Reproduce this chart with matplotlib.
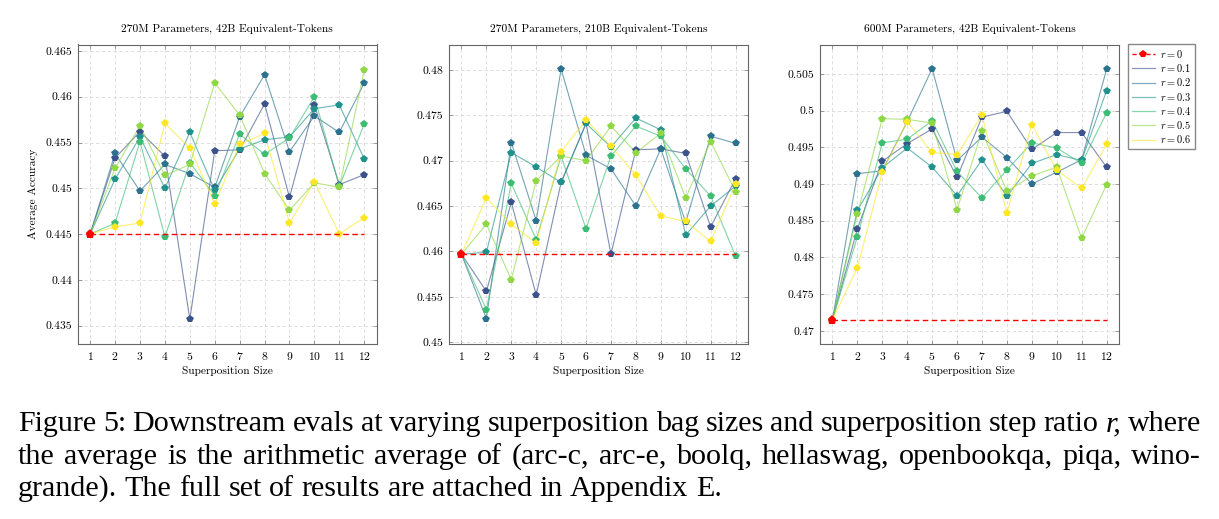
import matplotlib
matplotlib.use("Agg")
import matplotlib.pyplot as plt
from matplotlib.lines import Line2D
from matplotlib.ticker import FuncFormatter, MultipleLocator

plt.rcParams['mathtext.fontset'] = 'cm'
plt.rcParams['axes.formatter.use_mathtext'] = True

sizes = list(range(1, 13))
ratios = ['0.1', '0.2', '0.3', '0.4', '0.5', '0.6']
colors = ['#3b528b', '#2c728e', '#21918c', '#3dbc74', '#8fd744', '#fde725']

titles = ['270M Parameters, 42B Equivalent-Tokens',
          '270M Parameters, 210B Equivalent-Tokens',
          '600M Parameters, 42B Equivalent-Tokens']

# r = 0 baseline per panel
baseline = [0.4450, 0.4597, 0.4715]

# panel 1: 270M, 42B
p1_r01 = [0.4450, 0.4533, 0.4562, 0.4535, 0.4357, 0.4541, 0.4542, 0.4592, 0.4490, 0.4591, 0.4504, 0.4515]
p1_r02 = [0.4450, 0.4538, 0.4497, 0.4526, 0.4516, 0.4501, 0.4578, 0.4624, 0.4540, 0.4579, 0.4561, 0.4615]
p1_r03 = [0.4450, 0.4510, 0.4556, 0.4500, 0.4561, 0.4498, 0.4543, 0.4553, 0.4556, 0.4587, 0.4591, 0.4532]
p1_r04 = [0.4450, 0.4462, 0.4551, 0.4447, 0.4528, 0.4492, 0.4559, 0.4537, 0.4555, 0.4600, 0.4502, 0.4570]
p1_r05 = [0.4450, 0.4522, 0.4568, 0.4514, 0.4526, 0.4615, 0.4580, 0.4516, 0.4476, 0.4506, 0.4501, 0.4629]
p1_r06 = [0.4450, 0.4458, 0.4462, 0.4571, 0.4544, 0.4483, 0.4548, 0.4560, 0.4462, 0.4507, 0.4450, 0.4468]

# panel 2: 270M, 210B
p2_r01 = [0.4597, 0.4556, 0.4654, 0.4552, 0.4676, 0.4741, 0.4597, 0.4712, 0.4713, 0.4708, 0.4627, 0.4680]
p2_r02 = [0.4597, 0.4526, 0.4720, 0.4634, 0.4801, 0.4706, 0.4691, 0.4650, 0.4713, 0.4632, 0.4727, 0.4719]
p2_r03 = [0.4597, 0.4599, 0.4709, 0.4693, 0.4676, 0.4741, 0.4715, 0.4747, 0.4734, 0.4618, 0.4650, 0.4672]
p2_r04 = [0.4597, 0.4536, 0.4675, 0.4613, 0.4705, 0.4625, 0.4705, 0.4738, 0.4727, 0.4691, 0.4661, 0.4595]
p2_r05 = [0.4597, 0.4630, 0.4569, 0.4678, 0.4705, 0.4700, 0.4738, 0.4709, 0.4730, 0.4659, 0.4721, 0.4666]
p2_r06 = [0.4597, 0.4659, 0.4630, 0.4609, 0.4710, 0.4745, 0.4716, 0.4684, 0.4639, 0.4633, 0.4611, 0.4674]

# panel 3: 600M, 42B
p3_r01 = [0.4715, 0.4839, 0.4931, 0.4955, 0.4975, 0.4909, 0.4991, 0.4999, 0.4947, 0.4970, 0.4970, 0.4923]
p3_r02 = [0.4715, 0.4914, 0.4918, 0.4985, 0.5057, 0.4932, 0.4964, 0.4936, 0.4900, 0.4916, 0.4933, 0.5056]
p3_r03 = [0.4715, 0.4864, 0.4922, 0.4949, 0.4923, 0.4884, 0.4933, 0.4883, 0.4928, 0.4940, 0.4932, 0.5027]
p3_r04 = [0.4715, 0.4828, 0.4956, 0.4961, 0.4986, 0.4917, 0.4881, 0.4919, 0.4956, 0.4949, 0.4928, 0.4997]
p3_r05 = [0.4715, 0.4859, 0.4989, 0.4988, 0.4983, 0.4865, 0.4972, 0.4890, 0.4911, 0.4923, 0.4826, 0.4899]
p3_r06 = [0.4715, 0.4786, 0.4916, 0.4985, 0.4943, 0.4940, 0.4994, 0.4860, 0.4981, 0.4919, 0.4894, 0.4954]

panels = [
    [p1_r01, p1_r02, p1_r03, p1_r04, p1_r05, p1_r06],
    [p2_r01, p2_r02, p2_r03, p2_r04, p2_r05, p2_r06],
    [p3_r01, p3_r02, p3_r03, p3_r04, p3_r05, p3_r06],
]
ylims = [(0.4330, 0.4657), (0.4498, 0.4828), (0.4682, 0.5090)]

caption = [
    "Figure 5: Downstream evals at varying superposition bag sizes and superposition step ratio r, where",
    "the average is the arithmetic average of (arc-c, arc-e, boolq, hellaswag, openbookqa, piqa, wino-",
    "grande). The full set of results are attached in Appendix E.",
]

W, H = 1219, 519
fig = plt.figure(figsize=(W / 100, H / 100), dpi=100)

lefts = [77.7, 449.0, 820.0]
ax_w, ax_top, ax_bot = 299.0, 44.5, 344.0

tick_font = dict(family='cmr10', size=8.2)
fmt = FuncFormatter(lambda v, p: '{:g}'.format(round(v, 4)))

for i, series in enumerate(panels):
    ax = fig.add_axes([lefts[i] / W, 1 - ax_bot / H, ax_w / W, (ax_bot - ax_top) / H])
    base = [baseline[i]] * len(sizes)
    ax.plot(sizes, base, color='red', ls=(0, (4, 2.5)), lw=1.0, zorder=5)
    for vals, c in zip(series, colors):
        ax.plot(sizes, vals, color=c, lw=0.8, alpha=0.65, zorder=3)
        ax.plot(sizes, vals, ls='none', marker='p', ms=6, color=c, mew=0, zorder=4)
    ax.plot(sizes[:1], base[:1], ls='none', marker='p', ms=6.5, color='red', mew=0, zorder=6)

    ax.set_xlim(0.5, 12.5)
    ax.set_ylim(*ylims[i])
    ax.set_xticks(sizes)
    ax.yaxis.set_major_locator(MultipleLocator(0.005))
    ax.yaxis.set_major_formatter(fmt)
    ax.grid(True, color='#d9d9d9', ls=(0, (4, 3)), lw=0.6)
    ax.set_axisbelow(True)
    ax.tick_params(direction='in', length=3, width=0.5, color='#777777',
                   top=True, right=True, pad=4)
    for lab in ax.get_xticklabels() + ax.get_yticklabels():
        lab.set_fontfamily('cmr10')
        lab.set_fontsize(8.4)
    for sp in ax.spines.values():
        sp.set_color('#666666')
        sp.set_linewidth(0.8)
    ax.set_title(titles[i], fontdict=tick_font, pad=9)
    ax.set_xlabel('Superposition Size', fontdict=tick_font, labelpad=3)
    if i == 0:
        ax.set_ylabel('Average Accuracy', fontdict=tick_font, labelpad=5)

handles = [Line2D([], [], color='red', ls=(0, (3, 2)), lw=1.0, marker='p', ms=6, mew=0)]
labels = ['$r = 0$']
for r, c in zip(ratios, colors):
    handles.append(Line2D([], [], color=c, lw=0.9, alpha=0.6))
    labels.append('$r = %s$' % r)
fig.legend(handles, labels, loc='upper left', bbox_to_anchor=(1128 / W, 1 - 44 / H),
           borderaxespad=0, fontsize=7.5, handlelength=2.2, handletextpad=0.5,
           labelspacing=0.22, fancybox=False, edgecolor='#888888', framealpha=1,
           borderpad=0.35)

# caption, justified like the LaTeX source
renderer = fig.canvas.get_renderer()
x0, x1 = 18.0, 1201.0
baselines = [431.0, 463.5, 496.0]
for k, line in enumerate(caption):
    words = line.split(' ')
    texts = []
    for w in words:
        style = 'italic' if w == 'r,' else 'normal'
        texts.append(fig.text(0, 1 - baselines[k] / H, w, family='Liberation Serif',
                              size=21.6, style=style, va='baseline', ha='left'))
    widths = [t.get_window_extent(renderer).width for t in texts]
    space = texts[0].get_fontsize() * 100 / 72 * 0.25
    if k < len(caption) - 1:
        space = (x1 - x0 - sum(widths)) / (len(words) - 1)
    x = x0
    for t, wd in zip(texts, widths):
        t.set_x(x / W)
        x += wd + space

fig.savefig('out.png', dpi=100)
